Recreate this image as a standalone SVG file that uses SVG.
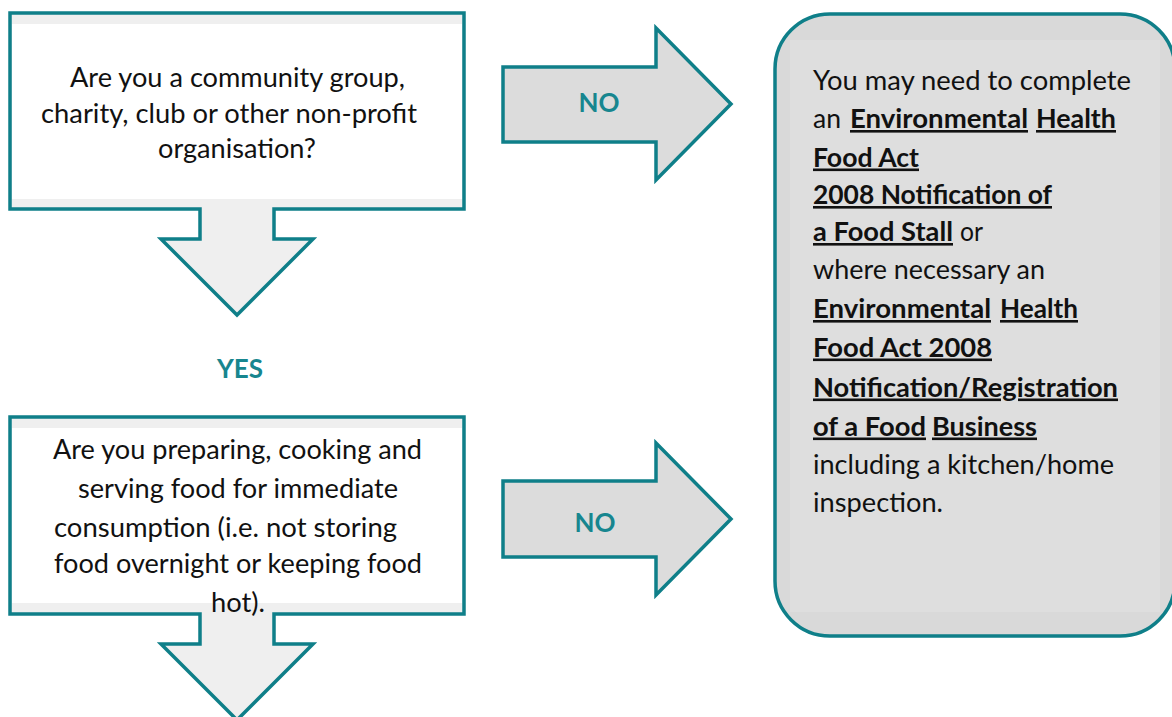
<svg xmlns="http://www.w3.org/2000/svg" width="1172" height="717" viewBox="0 0 1172 717">
<style>
.shape{stroke:#0f7f89;stroke-width:3.5;stroke-linejoin:miter}
.callout{fill:#efefef}
.arrow{fill:#dcdcdc}
.t{font-family:Lato,"Open Sans","Liberation Sans",sans-serif;font-size:26px;fill:#111}
.b{font-weight:bold;text-decoration:underline}
.lbl{font-family:Lato,"Open Sans","Liberation Sans",sans-serif;font-size:26px;font-weight:bold;fill:#17868f;text-anchor:middle}
</style>
<rect width="1172" height="717" fill="#fff"/>
<g id="node-q1">
<path class="shape callout" d="M10,13 H464 V209 H274 V239 H313 L237,315 L161,239 H200 V209 H10 Z"/>
<rect x="12" y="24" width="450" height="175" fill="#fff"/>
<text class="t" x="70" y="87" textLength="335" lengthAdjust="spacingAndGlyphs">Are you a community group,</text>
<text class="t" x="41" y="123" textLength="376" lengthAdjust="spacingAndGlyphs">charity, club or other non-profit</text>
<text class="t" x="158" y="158" textLength="158" lengthAdjust="spacingAndGlyphs">organisation?</text>
</g>
<g id="node-q2">
<path class="shape callout" d="M10,417 H464 V614 H274 V644 H313 L237,720 L161,644 H200 V614 H10 Z"/>
<rect x="12" y="428" width="450" height="175" fill="#fff"/>
<text class="t" x="53" y="459" textLength="369" lengthAdjust="spacingAndGlyphs">Are you preparing, cooking and</text>
<text class="t" x="78" y="498" textLength="320" lengthAdjust="spacingAndGlyphs">serving food for immediate</text>
<text class="t" x="54" y="537" textLength="343" lengthAdjust="spacingAndGlyphs">consumption (i.e. not storing</text>
<text class="t" x="54" y="573" textLength="368" lengthAdjust="spacingAndGlyphs">food overnight or keeping food</text>
<text class="t" x="211" y="612" textLength="54" lengthAdjust="spacingAndGlyphs">hot).</text>
</g>
<g id="node-result">
<rect class="shape" x="775" y="14" width="400" height="622" rx="55" ry="55" fill="#d9d9d9"/>
<rect x="790" y="40" width="370" height="572" fill="#dedede"/>
<text class="t" x="813" y="90" textLength="318" lengthAdjust="spacingAndGlyphs">You may need to complete</text>
<text class="t" x="813" y="128" textLength="28" lengthAdjust="spacingAndGlyphs">an</text>
<text class="t b" x="850" y="128" textLength="178" lengthAdjust="spacingAndGlyphs">Environmental</text>
<text class="t b" x="1036" y="128" textLength="80" lengthAdjust="spacingAndGlyphs">Health</text>
<text class="t b" x="813" y="166.5" textLength="106" lengthAdjust="spacingAndGlyphs">Food Act</text>
<text class="t b" x="813" y="204" textLength="239" lengthAdjust="spacingAndGlyphs">2008 Notification of</text>
<text class="t b" x="813" y="241" textLength="140" lengthAdjust="spacingAndGlyphs">a Food Stall</text>
<text class="t" x="960" y="241" textLength="23" lengthAdjust="spacingAndGlyphs">or</text>
<text class="t" x="813" y="279" textLength="232" lengthAdjust="spacingAndGlyphs">where necessary an</text>
<text class="t b" x="813" y="318" textLength="178" lengthAdjust="spacingAndGlyphs">Environmental</text>
<text class="t b" x="1000" y="318" textLength="78" lengthAdjust="spacingAndGlyphs">Health</text>
<text class="t b" x="813" y="356.5" textLength="179" lengthAdjust="spacingAndGlyphs">Food Act  2008</text>
<text class="t b" x="813" y="396.5" textLength="305" lengthAdjust="spacingAndGlyphs">Notification/Registration</text>
<text class="t b" x="813" y="435.5" textLength="113" lengthAdjust="spacingAndGlyphs">of a Food</text>
<text class="t b" x="932" y="435.5" textLength="105" lengthAdjust="spacingAndGlyphs">Business</text>
<text class="t" x="813" y="473.5" textLength="301" lengthAdjust="spacingAndGlyphs">including a kitchen/home</text>
<text class="t" x="813" y="512" textLength="130" lengthAdjust="spacingAndGlyphs">inspection.</text>
</g>
<g id="connectors">
<g id="edge-no-1">
<path class="shape arrow" d="M503,67 H656 V28 L731,104 L656,180 V142 H503 Z"/>
<text class="lbl" x="599" y="112">NO</text>
</g>
<g id="edge-yes">
<text class="lbl" x="240" y="378">YES</text>
</g>
<g id="edge-no-2">
<path class="shape arrow" d="M503,481 H656 V443 L731,519 L656,595 V557 H503 Z"/>
<text class="lbl" x="595" y="532">NO</text>
</g>
</g>
</svg>
